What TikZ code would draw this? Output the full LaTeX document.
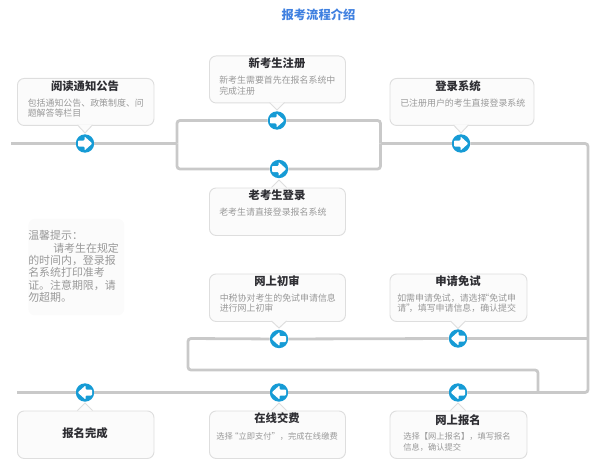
\documentclass[tikz,border=0pt]{standalone}
\usepackage{fontspec}
\setmainfont{Noto Sans CJK SC}
\definecolor{linegray}{HTML}{C9C9C9}
\definecolor{boxedge}{HTML}{DEDEDE}
\definecolor{boxfill}{HTML}{FBFBFB}
\definecolor{dotblue}{HTML}{169BD5}
\definecolor{titleblue}{HTML}{3F80E0}
\definecolor{desc}{HTML}{999999}
\definecolor{head}{HTML}{2E2E33}
\tikzset{
  flowline/.style={draw=linegray,line width=2.1pt,rounded corners=2.2pt},
  infobox/.style={draw=boxedge,fill=boxfill,line width=.7pt,rounded corners=5pt,anchor=north west,inner sep=0pt},
  headtext/.style={font=\fontsize{8.5pt}{10pt}\selectfont\bfseries,text=head,inner sep=0pt},
  desctext/.style={font=\fontsize{6.7pt}{8pt}\selectfont,text=desc,inner sep=0pt,anchor=west},
  smalltext/.style={font=\fontsize{6.2pt}{8pt}\selectfont,text=desc,inner sep=0pt,anchor=west},
  notetext/.style={font=\fontsize{8.2pt}{9.2pt}\selectfont,text=desc,inner sep=0pt,anchor=west},
  dotnode/.style={circle,fill=dotblue,minimum size=13.8pt,inner sep=0pt}
}
% box: name, x, y, w, h, tip x, base y, tip y
\newcommand{\flowbox}[8]{%
  \node[infobox,minimum width=#4*.75pt,minimum height=#5*.75pt] (#1) at (#2,#3) {};
  \fill[boxfill] (#6-7.5,#7) -- (#6,#8) -- (#6+7.5,#7) -- cycle;
  \draw[boxedge,line width=.7pt] (#6-7.5,#7) -- (#6,#8) -- (#6+7.5,#7);
}
% dot: name, x, y, direction (1 right, -1 left)
\newcommand{\flowdot}[4]{%
  \node[dotnode] (#1) at (#2,#3) {};
  \fill[white,rounded corners=.6pt] (#2-7*#4,#3-3) -- (#2-.5*#4,#3-3) -- (#2-.5*#4,#3-7) -- (#2+7.3*#4,#3) -- (#2-.5*#4,#3+7) -- (#2-.5*#4,#3+3) -- (#2-7*#4,#3+3) -- cycle;
}
\begin{document}
\begin{tikzpicture}[x=.75pt,y=-.75pt]
\useasboundingbox (0,0) rectangle (600,467);
\node[font=\fontsize{9.2pt}{11pt}\selectfont\bfseries,text=titleblue,inner sep=0pt] (title) at (318.5,14.5) {报考流程介绍};

% boxes
\flowbox{b1}{17}{78}{136.5}{47}{85}{125}{133}
\flowbox{b2}{209}{55.5}{136}{47}{277}{102.5}{110}
\flowbox{b3}{209}{187.5}{136}{47.5}{279}{187.5}{180}
\flowbox{b4}{389.5}{78}{144}{47}{461}{125}{133}
\flowbox{b5}{209}{273.5}{136}{47.5}{279}{321}{328}
\flowbox{b6}{389.5}{273.5}{137}{47.5}{458}{321}{328.5}
\flowbox{b7}{17}{410.5}{136.5}{47.5}{85}{410.5}{403}
\flowbox{b8}{209}{410.5}{136}{47.5}{279}{410.5}{403}
\flowbox{b9}{389.5}{410.5}{137}{47.5}{458}{410.5}{403}
\node[fill=boxfill,rounded corners=5pt,minimum width=72pt,minimum height=72.5pt,anchor=north west,inner sep=0pt] (note) at (28,218.5) {};

% dots
\flowdot{d1}{85}{143.5}{1}
\flowdot{d2}{277}{120.5}{1}
\flowdot{d3}{279}{169}{1}
\flowdot{d4}{461}{143.5}{1}
\flowdot{d5}{279}{339}{-1}
\flowdot{d6}{458}{338.5}{-1}
\flowdot{d7}{85}{392.5}{-1}
\flowdot{d8}{279}{392.5}{-1}
\flowdot{d9}{458}{392.5}{-1}

% connector points
\coordinate (start) at (11,143.5);
\coordinate (jl) at (177,143.5);
\coordinate (jr) at (380.5,143.5);
\coordinate (cr) at (588,143.5);
\coordinate (crb) at (588,392.5);
\coordinate (m) at (588,338.5);
\coordinate (ll) at (188,338.5);
\coordinate (lb) at (188,370);
\coordinate (rb) at (538,370);
\coordinate (rj) at (538,392.5);
\coordinate (end) at (17,392.5);

% connectors
\draw[flowline] (start) -- (d1);
\draw[flowline] (d1) -- (jl);
\draw[flowline] (jl) |- (d2);
\draw[flowline] (jl) |- (d3);
\draw[flowline] (d2) -| (jr);
\draw[flowline] (d3) -| (jr);
\draw[flowline] (jr) -- (d4);
\draw[flowline] (d4) -- (cr) -- (crb) -- (d9);
\draw[flowline] (m) -- (d6);
\draw[flowline] (d6) -- (d5);
\draw[flowline] (d5) -- (ll) -- (lb) -- (rb) -- (rj);
\draw[flowline] (d9) -- (d8);
\draw[flowline] (d8) -- (d7);
\draw[flowline] (d7) -- (end);

% headings
\node[headtext] (h1) at (85,86.5) {阅读通知公告};
\node[headtext] (h2) at (277,63.5) {新考生注册};
\node[headtext] (h3) at (277,195.5) {老考生登录};
\node[headtext] (h4) at (458,86.5) {登录系统};
\node[headtext] (h5) at (277,281.5) {网上初审};
\node[headtext] (h6) at (458,281.5) {申请免试};
\node[headtext] (h7) at (85,433.5) {报名完成};
\node[headtext] (h8) at (277,418.5) {在线交费};
\node[headtext] (h9) at (458,420.5) {网上报名};

% descriptions
\node[desctext] (t1a) at (27.5,103.5) {包括通知公告、政策制度、问};
\node[desctext] (t1b) at (27.5,113.5) {题解答等栏目};
\node[desctext] (t2a) at (219,80.5) {新考生需要首先在报名系统中};
\node[desctext] (t2b) at (219,91) {完成注册};
\node[desctext] (t3) at (219,212.5) {老考生请直接登录报名系统};
\node[desctext] (t4) at (400,103.5) {已注册用户的考生直接登录系统};
\node[desctext] (t5a) at (219.5,298) {中税协对考生的免试申请信息};
\node[desctext] (t5b) at (219.5,308.5) {进行网上初审};
\node[desctext] (t6a) at (397,298) {如需申请免试，请选择\hspace{-.7em}“免试申};
\node[desctext] (t6b) at (397,308.5) {请”\hspace{-.7em}，填写申请信息，确认提交};
\node[smalltext] (t8) at (216,436) {选择\hspace{-.3em}“立即支付”，完成在线缴费};
\node[smalltext] (t9a) at (403,436) {选择【网上报名】，填写报名};
\node[smalltext] (t9b) at (403,447) {信息，确认提交};

% note
\node[notetext] (n1) at (28,235) {温馨提示：};
\node[notetext] (n2) at (53,248) {请考生在规定};
\node[notetext] (n3) at (28,260) {的时间内，登录报};
\node[notetext] (n4) at (28,272.5) {名系统打印准考};
\node[notetext] (n5) at (28,285) {证。注意期限，请};
\node[notetext] (n6) at (28,297) {勿超期。};
\end{tikzpicture}
\end{document}
